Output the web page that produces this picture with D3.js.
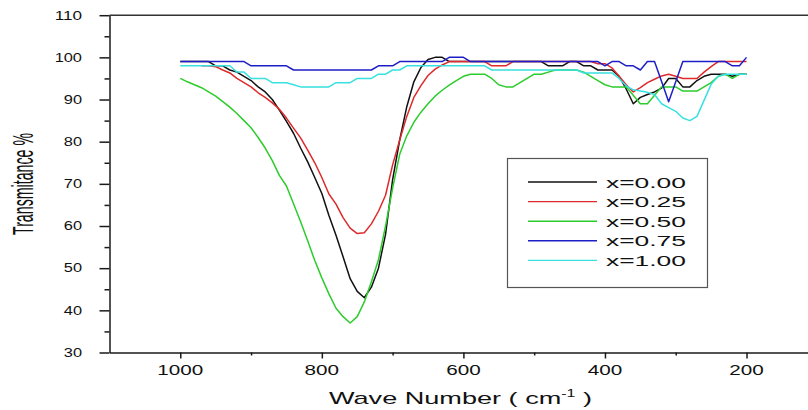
<!DOCTYPE html>
<html><head><meta charset="utf-8">
<script src="https://cdn.jsdelivr.net/npm/d3@7"></script>
<style>
body{margin:0;background:#fff}
svg{display:block}
text{font-family:"Liberation Sans",Arial,sans-serif;fill:#111}
</style>
</head><body>
<svg id="c" width="808" height="410"></svg>
<script>
// ---- data ----
const waveNumbers = [1000,990,980,970,960,950,940,930,920,910,900,890,880,870,860,850,840,830,820,810,
  800,790,780,770,760,750,740,730,720,710,700,690,680,670,660,650,640,630,620,610,
  600,590,580,570,560,550,540,530,520,510,500,490,480,470,460,450,440,430,420,410,
  400,390,380,370,360,350,340,330,320,310,300,290,280,270,260,250,240,230,220,210,200];

const seriesNames = ["x=0.00","x=0.25","x=0.50","x=0.75","x=1.00"];
const seriesColors = ["#111111","#dd2a2a","#2ccc2c","#1e1ec8","#38e0e0"];

const x000 = [99,99,99,99,99,98,98,97,96.5,95.5,94.5,93,91.8,90,87.5,84.8,82,78.5,75.2,71.5,
  67.7,62.5,57.8,52.7,47.5,44.5,43,45.5,50,58,71,80.4,88.3,94.2,97.6,99.5,100,100,99,99,
  99,99,99,99,99,99,99,99,99,99,99,99,98,98,98,99,99,98,98,97,
  97,97,95.5,92.5,89,90.5,91.2,91.8,92.7,95,95,93,93,94.5,95.5,96,96,96,95.5,96,96];

const x025 = [null,null,null,98,98,97.8,97,96.3,95,94,93,91.6,90.5,89.2,87.7,85.6,83.2,80.9,78,75,
  71.5,67.6,65.2,62,59.5,58.2,58.4,60.5,63.5,67.3,74.5,80.4,86,90.5,93.3,95.7,97.2,98.2,99,99,
  99,99,99,99,98,98,98,99,99,99,99,99,99,99,99,99,99,99,99,98.5,
  98.5,97.5,95.5,93.5,91.8,92.8,94,94.8,95.6,96,95.5,95,95,95,96.5,97.8,99,99,99,99,99];

const x050 = [95,94.2,93.5,92.8,91.8,90.8,89.5,88.2,86.7,85,83.3,81,78.5,75.5,72,69.5,65.3,61,56.5,51.8,
  47.7,43.9,40.5,38.5,37,38.5,42,46.8,52,60,69,77,81.4,84.6,87,89,90.8,92.2,93.4,94.5,
  95.5,96,96,96,95,93.5,93,93,94,95,96,96,96.5,97,97,97,97,96.5,95.5,94.5,
  93.5,93,93,93,91,89,89,91,93,93,93,92,92,92,93,94,95.5,96,95,96,96];

const x075 = [99,99,99,99,99,99,99,99,99,99,98,98,98,98,98,98,97,97,97,97,
  97,97,97,97,97,97,97,97,98,98,98,99,99,99,99,99,99,99,100,100,
  100,99,99,99,99,99,99,99,99,99,99,99,99,99,99,99,99,99,99,99,
  98,99,99,98,98,97,99,99,94.3,89.5,94.2,99,99,99,99,99,99,99,98,98,100];

const x100 = [98,98,98,98,98,98,98,98,96.5,96.5,95,95,95,94,94,94,93.5,93,93,93,
  93,93,94,94,94,95,95,95,96,96,97,97,98,98,98,98,98,98,98,98,
  98,98,98,98,97,97,97,97,97,97,97,97,97,97,97,97,97,96.3,96.3,96.3,
  96.3,96.3,95,93.2,92.3,92,91.7,91.2,89,88.1,87.2,85.6,85,86,89.8,93.6,95.5,96,96,96,96];

const seriesValues = [x000, x025, x050, x075, x100];

const yTicks = [30,40,50,60,70,80,90,100,110];
const yMinorTicks = [35,45,55,65,75,85,95,105];
const xTicks = [1000,800,600,400,200];
const xMinorTicks = [900,700,500,300];

// ---- chart ----
const svg = d3.select("#c");
const x = d3.scaleLinear().domain([1100, 100]).range([109.5, 817.3]);
const y = d3.scaleLinear().domain([30, 110]).range([352.5, 15.2]);
const axisColor = "#1a1a1a";

// top frame line
svg.append("line").attr("x1", x(1100)).attr("x2", 808).attr("y1", y(110)).attr("y2", y(110))
  .attr("stroke", "#333").attr("stroke-width", 1.4);

// series
const line = d3.line()
  .defined(d => d[1] != null)
  .x(d => x(d[0])).y(d => y(d[1]));

seriesValues.forEach((vals, i) => {
  const pts = waveNumbers.map((w, j) => [w, vals[j]]);
  svg.append("path").datum(pts)
    .attr("d", line)
    .attr("fill", "none")
    .attr("stroke", seriesColors[i])
    .attr("stroke-width", 1.5)
    .attr("stroke-linejoin", "round");
});

// y axis
const gy = svg.append("g").attr("transform", `translate(${x(1100)},0)`);
gy.call(d3.axisLeft(y).tickValues(yTicks).tickSize(10).tickSizeOuter(0).tickFormat(""));
gy.append("g").call(d3.axisLeft(y).tickValues(yMinorTicks).tickSize(5).tickSizeOuter(0).tickFormat(""))
  .select(".domain").remove();
gy.selectAll("path,line").attr("stroke", axisColor).attr("stroke-width", 1.5);

// x axis
const gx = svg.append("g").attr("transform", `translate(0,${y(30)})`);
gx.call(d3.axisBottom(x).tickValues(xTicks).tickSize(6).tickSizeOuter(0).tickFormat(""));
gx.append("g").call(d3.axisBottom(x).tickValues(xMinorTicks).tickSize(3).tickSizeOuter(0).tickFormat(""))
  .select(".domain").remove();
gx.selectAll("path,line").attr("stroke", axisColor).attr("stroke-width", 1.5);

// y tick labels
svg.selectAll(".ylab").data(yTicks).enter().append("text")
  .attr("class", "ylab")
  .attr("x", 82).attr("y", d => y(d) + 4.3)
  .attr("text-anchor", "end")
  .attr("font-size", 12)
  .attr("textLength", d => String(d).length * 9.1)
  .attr("lengthAdjust", "spacingAndGlyphs")
  .text(d => d);

// x tick labels
svg.selectAll(".xlab").data(xTicks).enter().append("text")
  .attr("class", "xlab")
  .attr("x", d => x(d)).attr("y", 375)
  .attr("text-anchor", "middle")
  .attr("font-size", 14)
  .attr("textLength", d => String(d).length * 11.5)
  .attr("lengthAdjust", "spacingAndGlyphs")
  .text(d => d);

// x title
const gt = svg.append("g");
const xt = gt.append("text").attr("x", 0).attr("y", 0).attr("font-size", 17);
xt.append("tspan").text("Wave Number ( cm");
xt.append("tspan").attr("dy", -7).attr("font-size", 10).text("-1");
xt.append("tspan").attr("dy", 7).text(" )");
const xtw = xt.node().getComputedTextLength();
gt.attr("transform", `translate(329,404) scale(${263 / xtw},1)`);

// y title
svg.append("text")
  .attr("transform", "translate(33.3,184) rotate(-90) scale(1,2.1)")
  .attr("text-anchor", "middle")
  .attr("font-size", 14)
  .attr("textLength", 102)
  .attr("lengthAdjust", "spacingAndGlyphs")
  .text("Transmitance %");

// legend
const lg = svg.append("g");
lg.append("rect").attr("x", 507.5).attr("y", 158.5).attr("width", 200).attr("height", 129)
  .attr("fill", "#fff").attr("stroke", "#555").attr("stroke-width", 1.2);
seriesNames.forEach((n, i) => {
  const ly = 182 + i * 19.6;
  lg.append("line").attr("x1", 528).attr("x2", 597).attr("y1", ly).attr("y2", ly)
    .attr("stroke", seriesColors[i]).attr("stroke-width", 1.4);
  lg.append("text").attr("x", 606).attr("y", ly + 5.5)
    .attr("font-size", 15)
    .attr("textLength", 80).attr("lengthAdjust", "spacingAndGlyphs")
    .text(n);
});
</script>
</body></html>
